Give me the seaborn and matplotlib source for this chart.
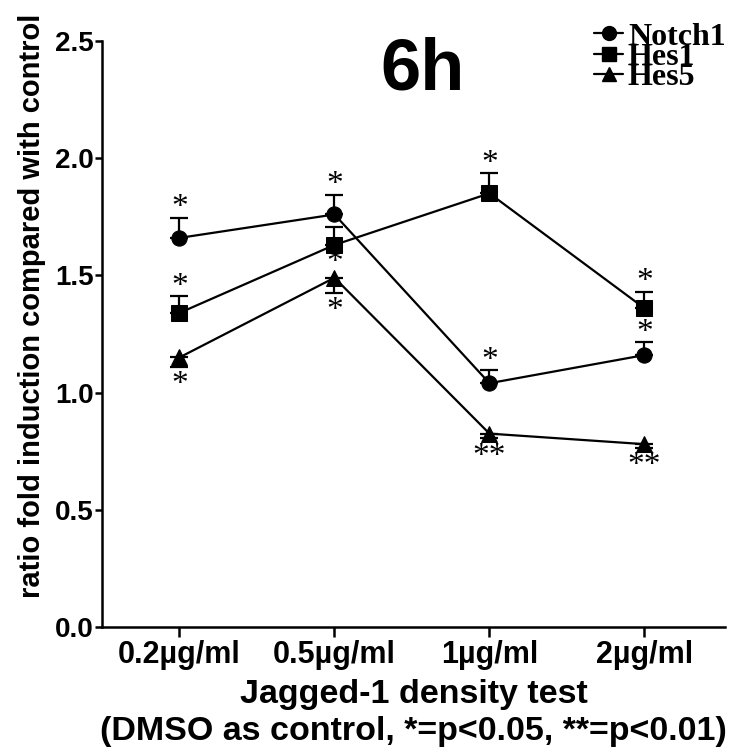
import numpy as np
import pandas as pd
import matplotlib
matplotlib.use("Agg")
import matplotlib.pyplot as plt
import seaborn as sns
from matplotlib.lines import Line2D

# ---------------- data ----------------
categories = ["0.2µg/ml", "0.5µg/ml", "1µg/ml", "2µg/ml"]
series_names = ["Notch1", "Hes1", "Hes5"]

notch1 = [1.66, 1.76, 1.04, 1.16]
notch1_err = [0.085, 0.085, 0.055, 0.055]
hes1 = [1.34, 1.63, 1.85, 1.36]
hes1_err = [0.07, 0.075, 0.085, 0.07]
hes5 = [1.15, 1.49, 0.825, 0.78]
hes5_err = [0.04, 0.065, 0.02, 0.015]

notch1_sig = ["*", "*", "*", "*"]
hes1_sig = ["*", "*", "*", "*"]
hes5_sig = ["*", "*", "**", "**"]

y_ticks = [0.0, 0.5, 1.0, 1.5, 2.0, 2.5]
title_text = "6h"
y_label = "ratio fold induction compared with control"
x_label = "Jagged-1 density test\n(DMSO as control, *=p<0.05, **=p<0.01)"

# ---------------- style ----------------
sns.set_theme(style="ticks")
plt.rcParams["font.family"] = ["Liberation Sans", "DejaVu Sans"]
plt.rcParams["font.weight"] = "bold"

markers = {"Notch1": "o", "Hes1": "s", "Hes5": "^"}
err_dir = {"Notch1": "up", "Hes1": "up", "Hes5": "down"}
star_side = {"Notch1": ["up"] * 4, "Hes1": ["up", "down", "up", "up"],
             "Hes5": ["down"] * 4}

values = {"Notch1": notch1, "Hes1": hes1, "Hes5": hes5}
errors = {"Notch1": notch1_err, "Hes1": hes1_err, "Hes5": hes5_err}
sigs = {"Notch1": notch1_sig, "Hes1": hes1_sig, "Hes5": hes5_sig}

W, H = 734, 755
fig = plt.figure(figsize=(W / 100, H / 100), dpi=100)
ax = fig.add_axes([102 / W, 128 / H, 623 / W, 586 / H])

xpos = np.arange(len(categories))
df = pd.DataFrame({
    "x": np.tile(xpos, len(series_names)),
    "value": notch1 + hes1 + hes5,
    "gene": np.repeat(series_names, len(categories)),
})

sns.lineplot(data=df, x="x", y="value", style="gene", markers=markers,
             dashes=False, color="black", markersize=11, linewidth=1.6,
             markeredgecolor="black", legend=False, ax=ax, zorder=3)

for g in series_names:
    v = np.array(values[g])
    e = np.array(errors[g])
    z = np.zeros_like(e)
    yerr = [z, e] if err_dir[g] == "up" else [e, z]
    ax.errorbar(xpos, v, yerr=yerr, fmt="none", ecolor="black",
                elinewidth=1.6, capsize=6.5, capthick=1.6, zorder=2)
    for i, (s, side) in enumerate(zip(sigs[g], star_side[g])):
        if side == "up":
            anchor = v[i] + (e[i] if err_dir[g] == "up" else 0)
            off = 7
        else:
            anchor = v[i] - (e[i] if err_dir[g] == "down" else 0)
            off = -13
        ax.annotate(s, xy=(xpos[i], anchor), xytext=(0, off),
                    textcoords="offset points", ha="center", va="center",
                    fontsize=24, family="Liberation Serif",
                    fontweight="normal", color="black")

ax.set_xlim(-0.5, 3.52)
ax.set_ylim(0, 2.5)
ax.set_yticks(y_ticks)
ax.set_yticklabels([f"{t:.1f}" for t in y_ticks], fontsize=20, fontweight="bold")
ax.set_xticks(xpos)
ax.set_xticklabels(categories, fontsize=22, fontweight="bold")
ax.tick_params(axis="both", colors="black", width=1.8, length=7, pad=2)
ax.tick_params(axis="y", length=5, pad=1)
for sp in ["left", "bottom"]:
    ax.spines[sp].set_linewidth(1.8)
    ax.spines[sp].set_color("black")
sns.despine(ax=ax)

ax.set_ylabel(y_label, fontsize=21, fontweight="bold", color="black")
ax.yaxis.set_label_coords(-0.09, 0.548)
ax.set_xlabel(x_label, fontsize=24.5, fontweight="bold", color="black",
              linespacing=1.22, labelpad=7)

ax.text(0.515, 1.008, title_text, transform=ax.transAxes, ha="center",
        va="top", fontsize=52, fontweight="bold", color="black")

# legend: marker keys (legend) + tightly stacked labels (one text block)
handles = [Line2D([], [], color="black", marker=markers[g], markersize=10,
                  linewidth=1.6) for g in series_names]
leg = ax.legend(handles, [""] * len(series_names), loc="upper left",
                bbox_to_anchor=(594 / W, 1 - 28 / H), bbox_transform=fig.transFigure,
                frameon=False, handlelength=2.1, handletextpad=0,
                labelspacing=0.54, borderaxespad=0, borderpad=0,
                prop={"family": "Liberation Serif", "size": 10})
fig.text(628 / W, 1 - 23 / H, "\n".join(series_names), ha="left", va="top",
         family="Liberation Serif", fontweight="bold", fontsize=23,
         linespacing=0.59, color="black")

fig.savefig("out.png", dpi=100)
